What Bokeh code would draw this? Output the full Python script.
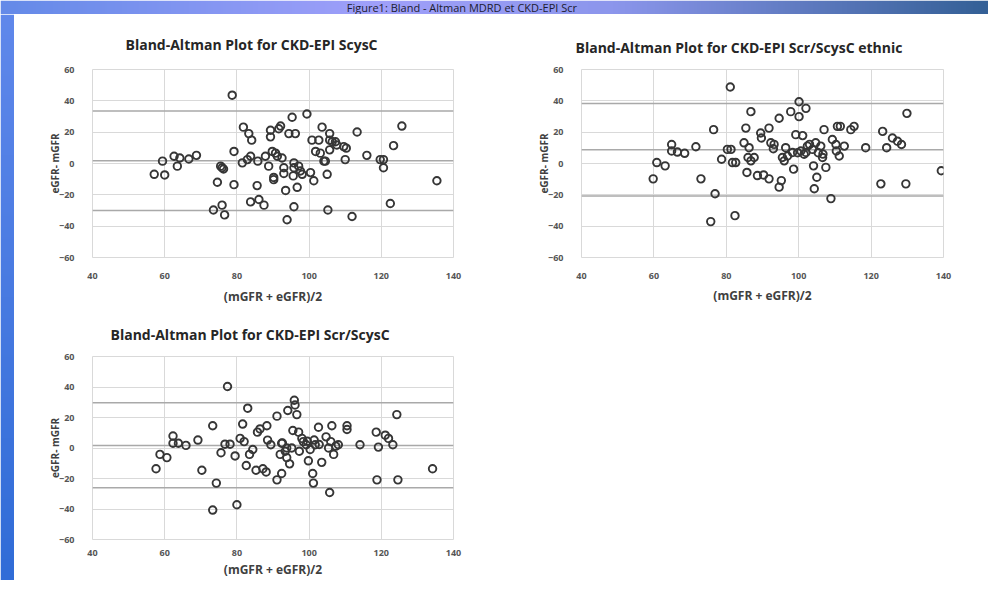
import numpy as np
from bokeh.plotting import figure
from bokeh.models import Range1d, FixedTicker, Span, Spacer
from bokeh.layouts import column, row
from bokeh.embed import file_html
from bokeh.resources import INLINE
from bokeh.core.properties import value

# ---------------- data ----------------
fig_title = "Figure1: Bland - Altman MDRD et CKD-EPI Scr"
panel_titles = [
    "Bland-Altman Plot for CKD-EPI ScysC",
    "Bland-Altman Plot for CKD-EPI Scr/ScysC ethnic",
    "Bland-Altman Plot for CKD-EPI Scr/ScysC",
]
x_ticks = [40, 60, 80, 100, 120, 140]
y_ticks = [-60, -40, -20, 0, 20, 40, 60]
x_label = "(mGFR + eGFR)/2"
y_label = "eGFR- mGFR"

# panel 1: CKD-EPI ScysC
x1 = [57.1, 59.4, 60.0, 62.6, 63.5, 64.2, 66.7, 68.8, 73.5, 74.6, 75.5, 75.9, 75.9, 76.6, 76.3,
      78.7, 79.2, 79.2, 81.5, 81.8, 82.9, 83.3, 84.1, 83.8, 83.8, 85.8, 85.6, 86.1, 87.5, 87.9,
      88.8, 89.3, 89.3, 89.8, 90.2, 90.7, 90.2, 91.2, 91.6, 92.1, 92.5, 93.0, 93.0, 93.5, 93.9,
      94.4, 95.3, 95.8, 95.8, 96.2, 95.6, 95.8, 96.7, 97.1, 97.6, 98.1, 99.4, 100.4, 100.8, 101.3,
      101.8, 102.7, 103.1, 103.6, 104.1, 104.5, 105.0, 105.2, 105.7, 105.7, 105.7, 106.4, 107.3,
      107.7, 109.6, 110.0, 110.3, 111.9, 113.3, 116.0, 119.7, 120.6, 120.6, 122.5, 123.4, 125.7,
      135.4]
y1 = [-6.9, 1.5, -7.3, 4.6, -1.7, 3.5, 2.9, 5.2, -29.7, -12.0, -1.7, -2.7, -26.6, -32.8, -3.5,
      43.6, 7.7, -13.5, 0.4, 23.2, 2.5, 19.1, 14.9, 4.6, -24.5, 1.5, -14.1, -23.0, -26.6, 4.6,
      -1.7, 21.2, 17.0, 7.7, -8.9, 6.6, -10.3, 4.6, 22.2, 23.9, 3.5, -2.7, -6.4, -17.2, -35.9,
      19.1, 29.5, 0.4, -2.7, 19.1, -7.9, -27.6, -15.2, -1.7, -4.8, -6.9, 31.6, -5.8, 14.9, -11.0,
      7.7, 14.9, 6.6, 23.2, 1.5, 1.5, -6.9, -29.7, 19.1, 14.9, 8.7, 13.9, 13.9,
      11.8, 10.8, 2.5, 9.8, -33.8, 20.1, 5.2, 2.5, 2.5, -2.7, -25.5, 11.4, 23.9,
      -11.0]
loa1 = [33.5, 1.8, -30.0]

# panel 2: CKD-EPI Scr/ScysC ethnic
x2 = [59.8, 60.8, 63.1, 64.9, 64.9, 66.5, 68.5, 71.6, 73.0, 76.5, 76.9, 75.7, 78.7, 81.1, 80.3,
      81.3, 81.7, 82.4, 82.6, 84.9, 85.4, 85.7, 86.3, 86.0, 86.8, 86.8, 87.7, 88.6, 89.5, 89.7,
      90.3, 91.8, 91.8, 92.3, 93.0, 93.2, 94.6, 94.6, 95.2, 95.5, 96.0, 96.4, 96.9, 97.8, 98.3,
      98.6, 99.2, 99.7, 100.1, 100.1, 100.6, 101.1, 101.5, 102.0, 102.0, 102.4, 103.0, 103.8,
      104.1, 104.3, 104.7, 105.0, 105.4, 106.1, 106.6, 106.7, 107.0, 107.5, 108.9, 109.3, 110.3,
      110.4, 110.7, 111.5, 111.2, 112.6, 114.4, 115.3, 118.5, 122.7, 123.2, 124.3, 125.9, 127.3,
      128.4, 129.6, 129.9, 139.4]
y2 = [-9.8, 0.6, -1.5, 12.1, 8.0, 7.3, 6.5, 10.7, -9.8, 21.6, -19.3, -37.1, 2.7, 48.8, 9.0,
      9.0, 0.6, -33.3, 0.6, 13.2, 22.6, -5.7, 10.1, 3.8, 33.1, 1.7, 3.8, -7.7, 19.5, 16.3,
      -7.3, 22.6, -9.8, 13.2, 9.4, 12.2, 28.9, -15.1, -10.9, 3.8, 1.7, 10.1, 4.8, 33.1, 7.0,
      -3.6, 18.4, 6.9, 39.4, 29.9, 8.0, 17.8, 5.9, 35.2, 7.0, 11.1, 12.2, 9.0,
      -1.5, -16.1, 13.2, -8.8, 6.9, 11.1, 3.8, 6.0, 21.6, -2.5, -22.4, 15.3, 12.1,
      8.0, 23.7, 23.7, 4.8, 11.1, 21.6, 23.7, 10.1, -13.0, 20.5, 10.1, 16.3, 14.2,
      12.1, -13.0, 32.0, -4.6]
loa2 = [38.3, 8.7, -20.8]

# panel 3: CKD-EPI Scr/ScysC
x3 = [57.6, 58.7, 60.6, 62.3, 62.3, 63.8, 65.9, 69.2, 70.3, 73.3, 73.3, 74.3, 75.6, 76.7, 77.4,
      78.1, 79.5, 80.0, 80.9, 81.6, 82.0, 82.6, 83.0, 83.5, 84.4, 85.3, 85.7, 86.4, 87.2, 88.3,
      88.5, 88.1, 89.4, 91.1, 91.1, 92.0, 92.4, 92.4, 92.6, 93.4, 93.8, 93.8, 94.1, 94.6, 95.2,
      95.5, 95.9, 96.1, 96.6, 97.1, 97.3, 98.0, 98.4, 99.2, 99.5, 99.8, 100.3, 101.0, 101.2,
      101.4, 101.7, 102.6, 102.8, 103.5, 104.7, 105.4, 105.7, 106.0, 106.3, 106.8, 107.4, 108.1,
      110.5, 110.5, 114.1, 118.6, 118.8, 119.2, 121.1, 122.0, 123.2, 124.3, 124.6, 134.2]
y3 = [-13.6, -4.2, -6.3, 7.9, 3.1, 3.1, 1.7, 5.2, -14.6, 14.6, -40.7, -23.0, -3.1, 2.5, 40.3,
      2.5, -5.2, -37.2, 6.3, 15.7, 4.2, -11.5, 26.1, -4.2, -1.0, -14.6, 10.4, 12.5, -13.6, 14.6,
      5.2, -15.7, 2.1, 20.9, -20.9, -4.2, 3.1, -16.7, 3.3, -2.1, 0.0, -6.3, 24.6, -10.4, 0.0,
      11.5, 31.3, 28.2, 21.9, 10.4, -2.1, 6.3, 4.2, 2.1, 4.4, -8.4, -1.0, -16.7, -23.0,
      5.2, 2.1, 13.6, 2.3, -9.4, 7.3, 0.0, -29.2, 4.2, 14.6, -4.2, 1.2, 2.1,
      14.6, 12.1, 2.1, 10.4, -20.9, 0.6, 8.4, 6.3, 2.1, 21.9, -20.9, -13.6]
loa3 = [29.6, 1.7, -26.0]

FONT = "Open Sans"
GRID = "#d9d9d9"
LOA = "#a9a9a9"


def gradient(stops, n):
    pos = np.array([s[0] for s in stops])
    cols = np.array([s[1] for s in stops], dtype=float)
    t = np.linspace(0, 1, n)
    return np.stack([np.interp(t, pos, cols[:, k]) for k in range(3)], axis=1).astype(np.uint8)


def rgba_image(rgb, horizontal=True):
    n = rgb.shape[0]
    if horizontal:
        img = np.zeros((1, n), dtype=np.uint32)
        v = img.view(dtype=np.uint8).reshape((1, n, 4))
        v[0, :, 0:3] = rgb
        v[0, :, 3] = 255
    else:
        img = np.zeros((n, 1), dtype=np.uint32)
        v = img.view(dtype=np.uint8).reshape((n, 1, 4))
        v[:, 0, 0:3] = rgb
        v[:, 0, 3] = 255
    return img


def bare(width, height):
    f = figure(width=width, height=height, x_range=Range1d(0, width), y_range=Range1d(0, height),
               output_backend="svg", toolbar_location=None, min_border=0)
    f.axis.visible = False
    f.grid.visible = False
    f.outline_line_color = None
    return f


# top band
TOP_W, TOP_H = 988, 14
top = bare(TOP_W, TOP_H)
top_rgb = gradient([(0.0, (100, 138, 232)), (0.38, (160, 160, 250)), (0.62, (140, 150, 236)),
                    (1.0, (52, 96, 150))], 400)
top.image_rgba(image=[rgba_image(top_rgb)], x=0, y=0, dw=TOP_W, dh=TOP_H)
top.text(x=[TOP_W * 0.467], y=[TOP_H / 2], text=[fig_title], text_font=value(FONT),
         text_font_size="11px", text_color="#1c1c30", text_align="center",
         text_baseline="middle")

# left band
LEFT_W, LEFT_H = 14, 566
left = bare(LEFT_W, LEFT_H)
left_rgb = gradient([(0.0, (48, 108, 215)), (1.0, (96, 136, 235))], 300)
left.image_rgba(image=[rgba_image(left_rgb, horizontal=False)], x=0, y=0, dw=LEFT_W, dh=LEFT_H)


def panel(title, xs, ys, loa, width, height, b_left, b_right, b_top, b_bottom,
          t_offset, t_standoff, xt_standoff, xl_standoff):
    p = figure(width=width, height=height, x_range=Range1d(40, 140), y_range=Range1d(-60, 60),
               output_backend="svg", toolbar_location=None,
               min_border_left=b_left, min_border_right=b_right,
               min_border_top=b_top, min_border_bottom=b_bottom)
    p.title.text = title
    p.title.align = "left"
    p.title.offset = t_offset
    p.title.standoff = t_standoff
    p.title.text_font = FONT
    p.title.text_font_size = "14px"
    p.title.text_font_style = "bold"
    p.title.text_color = "#262626"

    p.background_fill_color = "white"
    p.border_fill_color = "white"
    p.outline_line_color = GRID

    p.xaxis.ticker = FixedTicker(ticks=x_ticks)
    p.yaxis.ticker = FixedTicker(ticks=y_ticks)
    p.xgrid.ticker = FixedTicker(ticks=x_ticks)
    p.ygrid.ticker = FixedTicker(ticks=y_ticks)
    p.grid.grid_line_color = GRID
    p.grid.grid_line_width = 1

    for ax in (p.xaxis, p.yaxis):
        ax.axis_line_color = None
        ax.major_tick_line_color = None
        ax.minor_tick_line_color = None
        ax.major_tick_out = 0
        ax.major_tick_in = 0
        ax.minor_tick_out = 0
        ax.minor_tick_in = 0
        ax.major_label_text_font = FONT
        ax.major_label_text_font_size = "9px"
        ax.major_label_text_font_style = "bold"
        ax.major_label_text_color = "#555555"
        ax.axis_label_text_font = FONT
        ax.axis_label_text_font_style = "bold"
        ax.axis_label_text_color = "#404040"

    p.xaxis.axis_label = x_label
    p.xaxis.axis_label_text_font_size = "12px"
    p.xaxis.major_label_standoff = xt_standoff
    p.xaxis.axis_label_standoff = xl_standoff

    p.yaxis.axis_label = y_label
    p.yaxis.axis_label_text_font_size = "10px"
    p.yaxis.major_label_standoff = 18
    p.yaxis.axis_label_standoff = -6

    for v in loa:
        p.add_layout(Span(location=v, dimension="width", line_color=LOA, line_width=1.5,
                          level="underlay"))

    p.scatter(xs, ys, marker="circle", size=7.5, fill_color=None, line_color="#363636",
              line_width=1.9)
    return p


p1 = panel(panel_titles[0], x1, y1, loa1, 491, 293, 78, 52, 53, 50, 33, 31, 15, 6)
p2 = panel(panel_titles[1], x2, y2, loa2, 483, 293, 76, 45, 55, 47, -6, 26, 15, 5)
p3 = panel(panel_titles[2], x3, y3, loa3, 491, 273, 78, 52, 49, 40, 18, 25, 10, 2)

content = column(row(p1, p2), row(p3, Spacer(width=483, height=273)))
layout = column(top, row(left, content))

open("out.html", "w").write(file_html(layout, INLINE))
